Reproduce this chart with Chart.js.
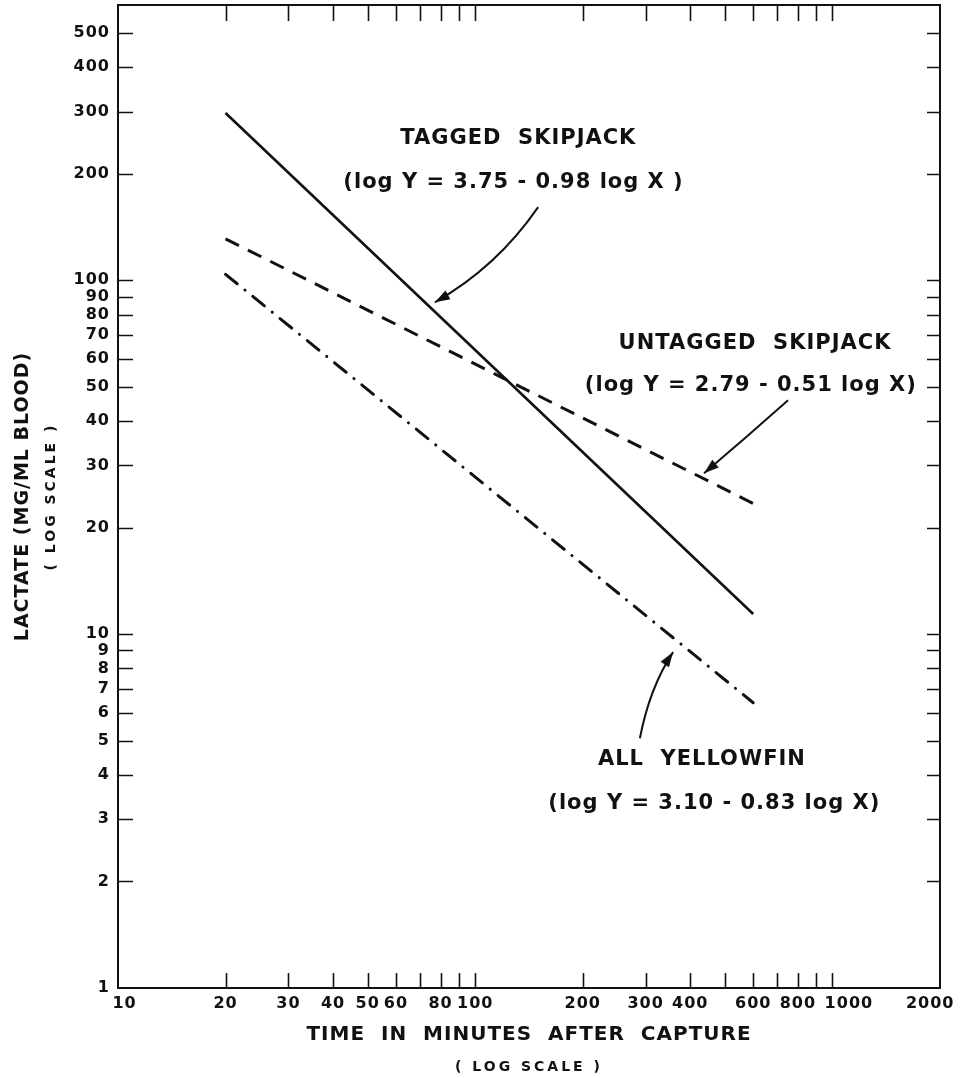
<!DOCTYPE html>
<html>
<head>
<meta charset="utf-8">
<script src="https://cdn.jsdelivr.net/npm/chart.js@4.4.1/dist/chart.umd.min.js"></script>
<style>
  html, body { margin: 0; padding: 0; background: #fff; }
  #wrap { width: 961px; height: 1078px; position: relative; }
</style>
</head>
<body>
<div id="wrap"><canvas id="lactateChart"></canvas></div>
<script>
var FONT = "'DejaVu Sans', sans-serif";
var INK = "#111";

// regression lines, two end points each (time in minutes, lactate mg/ml)
var taggedX = [20, 600];
var taggedY = [297, 11.4];
var untaggedX = [20, 600];
var untaggedY = [131, 23.4];
var yellowfinX = [20, 600];
var yellowfinY = [104, 6.4];

var xTickMarks = [20, 30, 40, 50, 60, 70, 80, 90, 100, 200, 300, 400, 500, 600, 700, 800, 900, 1000];
var xTickLabels = [10, 20, 30, 40, 50, 60, 80, 100, 200, 300, 400, 600, 800, 1000, 2000];
var yTickMarks = [2, 3, 4, 5, 6, 7, 8, 9, 10, 20, 30, 40, 50, 60, 70, 80, 90, 100, 200, 300, 400, 500];
var yTickLabels = [1, 2, 3, 4, 5, 6, 7, 8, 9, 10, 20, 30, 40, 50, 60, 70, 80, 90, 100, 200, 300, 400, 500];

// text notes, placed in data units
var notes = [
    { x: 132, y: 252, text: "TAGGED  SKIPJACK" },
    { x: 128, y: 189, text: "(log Y = 3.75 - 0.98 log X )" },
    { x: 607, y: 66.4, text: "UNTAGGED  SKIPJACK" },
    { x: 591, y: 50.5, text: "(log Y = 2.79 - 0.51 log X)" },
    { x: 431, y: 4.41, text: "ALL  YELLOWFIN" },
    { x: 467, y: 3.33, text: "(log Y = 3.10 - 0.83 log X)" }
];
// arrows: start, bend, tip (data units)
var arrows = [
    { from: [150, 161], bend: [115, 109], to: [77.1, 86.7] },
    { from: [751, 45.8], bend: [575, 36], to: [437, 28.5] },
    { from: [289, 5.08], bend: [308, 7.08], to: [358, 8.9] }
];

function pts(xs, ys) {
    return xs.map((x, i) => ({ x: x, y: ys[i] }));
}

function drawArrow(ctx, xs, ys, a) {
    var p0 = [xs.getPixelForValue(a.from[0]), ys.getPixelForValue(a.from[1])];
    var c = [xs.getPixelForValue(a.bend[0]), ys.getPixelForValue(a.bend[1])];
    var p1 = [xs.getPixelForValue(a.to[0]), ys.getPixelForValue(a.to[1])];
    ctx.beginPath();
    ctx.moveTo(p0[0], p0[1]);
    ctx.quadraticCurveTo(c[0], c[1], p1[0], p1[1]);
    ctx.lineWidth = 2;
    ctx.stroke();
    var ang = Math.atan2(p1[1] - c[1], p1[0] - c[0]);
    var len = 15, half = 5;
    var bx = p1[0] - len * Math.cos(ang), by = p1[1] - len * Math.sin(ang);
    ctx.beginPath();
    ctx.moveTo(p1[0], p1[1]);
    ctx.lineTo(bx + half * Math.sin(ang), by - half * Math.cos(ang));
    ctx.lineTo(bx - half * Math.sin(ang), by + half * Math.cos(ang));
    ctx.closePath();
    ctx.fill();
}

var paperPlugin = {
    id: "paper",
    beforeUpdate: function (chart) { chart.ctx.letterSpacing = "1px"; },
    beforeDraw: function (chart) { chart.ctx.letterSpacing = "1px"; },
    afterDraw: function (chart) {
        var ctx = chart.ctx, area = chart.chartArea;
        var xs = chart.scales.x, ys = chart.scales.y;
        ctx.save();
        ctx.strokeStyle = INK;
        ctx.fillStyle = INK;

        // frame
        ctx.lineWidth = 2;
        ctx.strokeRect(area.left, area.top, area.right - area.left, area.bottom - area.top);

        // inner tick marks on all four sides
        ctx.lineWidth = 1.6;
        ctx.beginPath();
        xTickMarks.forEach(function (v) {
            var px = Math.round(xs.getPixelForValue(v)) + 0.5;
            ctx.moveTo(px, area.bottom); ctx.lineTo(px, area.bottom - 15);
            ctx.moveTo(px, area.top); ctx.lineTo(px, area.top + 16);
        });
        yTickMarks.forEach(function (v) {
            var py = Math.round(ys.getPixelForValue(v)) + 0.5;
            ctx.moveTo(area.left, py); ctx.lineTo(area.left + 15, py);
            ctx.moveTo(area.right, py); ctx.lineTo(area.right - 13, py);
        });
        ctx.stroke();

        // "(LOG SCALE)" under both axis titles
        ctx.font = "bold 14px " + FONT;
        ctx.letterSpacing = "3px";
        ctx.textAlign = "center";
        ctx.textBaseline = "middle";
        ctx.fillText("( LOG SCALE )", (area.left + area.right) / 2, area.bottom + 79);
        ctx.save();
        ctx.translate(51, (area.top + area.bottom) / 2);
        ctx.rotate(-Math.PI / 2);
        ctx.fillText("( LOG SCALE )", 0, 0);
        ctx.restore();

        // notes and arrows
        ctx.font = "bold 21px " + FONT;
        ctx.letterSpacing = "1px";
        notes.forEach(function (n) {
            ctx.fillText(n.text, xs.getPixelForValue(n.x), ys.getPixelForValue(n.y));
        });
        arrows.forEach(function (a) { drawArrow(ctx, xs, ys, a); });
        ctx.restore();
    }
};

var ctxLactate = document.getElementById("lactateChart");

var lactateChart = new Chart(ctxLactate, {
    type: "line",
    data: {
        datasets: [
            {
                label: "Tagged skipjack",
                data: pts(taggedX, taggedY),
                borderColor: INK,
                borderWidth: 2.6,
                pointRadius: 0,
            },
            {
                label: "Untagged skipjack",
                data: pts(untaggedX, untaggedY),
                borderColor: INK,
                borderWidth: 3,
                borderDash: [15, 10],
                pointRadius: 0,
            },
            {
                label: "All yellowfin",
                data: pts(yellowfinX, yellowfinY),
                borderColor: INK,
                borderWidth: 3,
                borderDash: [15, 10, 0.1, 10],
                borderCapStyle: "round",
                pointRadius: 0,
            },
        ],
    },
    options: {
        responsive: true,
        maintainAspectRatio: false,
        animation: false,
        layout: { padding: { left: 0, right: 21, top: 5, bottom: 0 } },
        plugins: {
            legend: { display: false },
            tooltip: { enabled: false },
        },
        scales: {
            x: {
                type: "logarithmic",
                min: 10,
                max: 2000,
                grid: { display: false, drawTicks: false },
                border: { display: false },
                afterBuildTicks: function (scale) {
                    scale.ticks = [10].concat(xTickMarks, [2000]).map(v => ({ value: v }));
                },
                afterFit: function (scale) {
                    scale.height = 90;
                    scale.paddingLeft = 0;
                    scale.paddingRight = 0;
                },
                ticks: {
                    autoSkip: false,
                    maxRotation: 0,
                    padding: 6,
                    color: INK,
                    font: { family: FONT, size: 16, weight: "bold" },
                    callback: function (v) {
                        if (xTickLabels.indexOf(v) < 0) return "";
                        // end labels sit a little off their ticks, as on the original sheet
                        if (v === 10) return "  10";
                        if (v === 1000) return "     1000";
                        if (v === 2000) return "2000   ";
                        return String(v);
                    },
                },
                title: {
                    display: true,
                    text: "TIME  IN  MINUTES  AFTER  CAPTURE",
                    color: INK,
                    font: { family: FONT, size: 20, weight: "bold" },
                    padding: { top: 0, bottom: 31 },
                },
            },
            y: {
                type: "logarithmic",
                min: 1,
                max: 600,
                grid: { display: false, drawTicks: false },
                border: { display: false },
                afterBuildTicks: function (scale) {
                    scale.ticks = yTickLabels.map(v => ({ value: v }));
                },
                afterFit: function (scale) {
                    scale.width = 118;
                    scale.paddingTop = 0;
                    scale.paddingBottom = 0;
                },
                ticks: {
                    autoSkip: false,
                    padding: 8,
                    color: INK,
                    font: { family: FONT, size: 16, weight: "bold" },
                    callback: function (v) { return yTickLabels.indexOf(v) >= 0 ? String(v) : ""; },
                },
                title: {
                    display: true,
                    text: "LACTATE (MG/ML BLOOD)",
                    color: INK,
                    font: { family: FONT, size: 19, weight: "bold" },
                    padding: { top: 12, bottom: 0 },
                },
            },
        },
    },
    plugins: [paperPlugin],
});
</script>
</body>
</html>
